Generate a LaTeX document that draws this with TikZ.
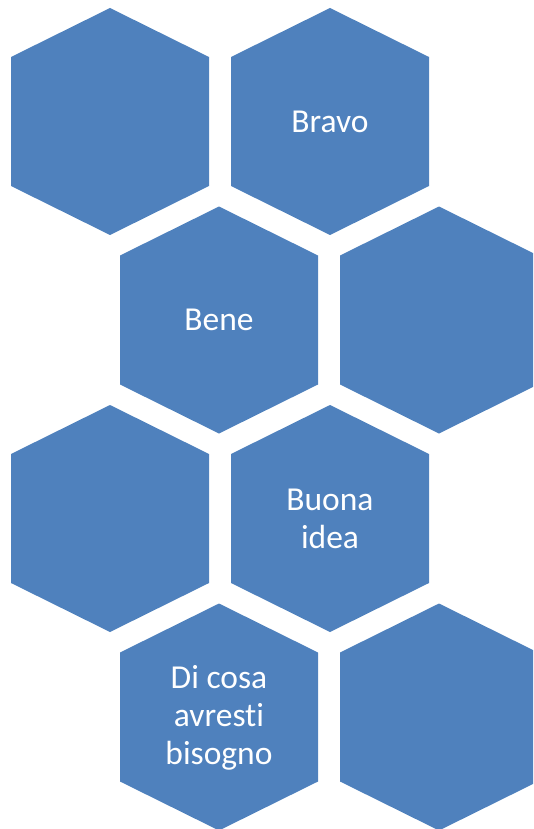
\documentclass[tikz,border=0pt]{standalone}
\usepackage{fontspec}
\setmainfont{Carlito}[Ligatures={NoCommon}]
\definecolor{hexblue}{HTML}{4F81BD}
\tikzset{
  hexfill/.style={fill=hexblue, draw=none},
  hexlabel/.style={text=white, align=center, font=\fontsize{33.5}{38}\selectfont, inner sep=0pt},
}
\newcommand{\hexat}[2]{%
  \path[hexfill] (#1,#2) ++(0,-113.5) -- ++(99,49) -- ++(0,129) -- ++(-99,49) -- ++(-99,-49) -- ++(0,-129) -- cycle;}
\begin{document}
\begin{tikzpicture}[x=1pt,y=-1pt]
\useasboundingbox (0,0) rectangle (533,829);
\clip (0,0) rectangle (533,829);
\hexat{110}{121.5}
\hexat{330}{121.5}
\hexat{219}{320}
\hexat{439}{320}
\hexat{110}{518.5}
\hexat{330}{518.5}
\hexat{219}{717}
\hexat{439}{717}
\node[hexlabel] (bravo) at (330,121.5) {Bravo};
\node[hexlabel] (bene) at (219,320) {Bene};
\node[hexlabel] (buona) at (330,519) {Buona\\idea};
\node[hexlabel] (dicosa) at (219,718) {Di cosa\\avresti\\bisogno};
\end{tikzpicture}
\end{document}
